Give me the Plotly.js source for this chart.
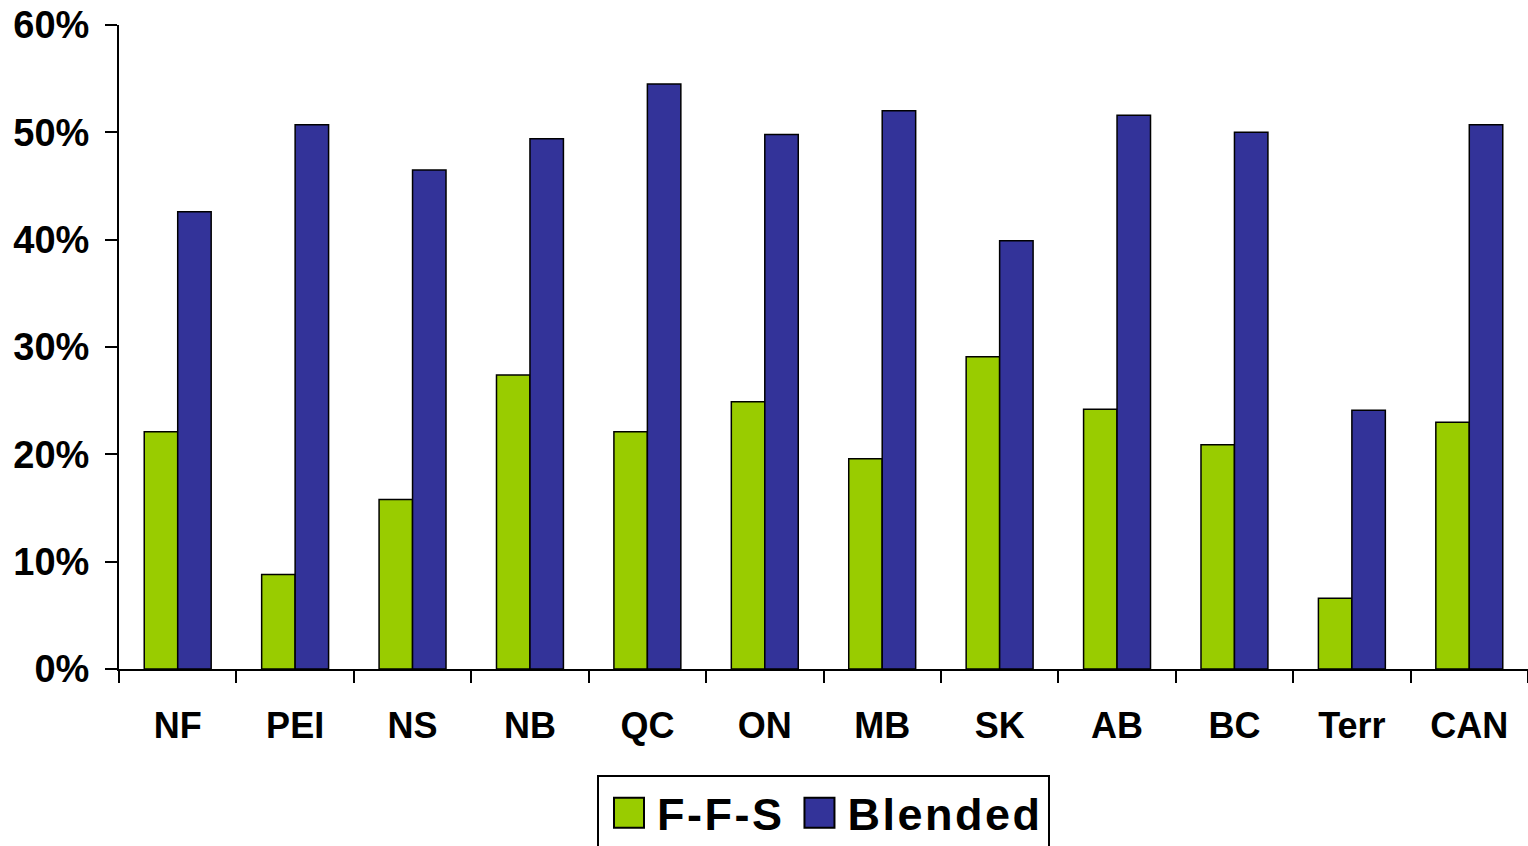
<!DOCTYPE html>
<html>
<head>
<meta charset="utf-8">
<script src="https://cdn.plot.ly/plotly-3.0.1.min.js"></script>
<style>
html,body{margin:0;padding:0;background:#fff;}
#chart{width:1528px;height:846px;}
text.legendtext{letter-spacing:2.5px;}
</style>
</head>
<body>
<div id="chart"></div>
<script>
const categories = ["NF","PEI","NS","NB","QC","ON","MB","SK","AB","BC","Terr","CAN"];
const ffsValues = [0.221, 0.088, 0.158, 0.274, 0.221, 0.249, 0.196, 0.291, 0.242, 0.209, 0.066, 0.230];
const blendedValues = [0.426, 0.507, 0.465, 0.494, 0.545, 0.498, 0.520, 0.399, 0.516, 0.500, 0.241, 0.507];
const seriesNames = ["F-F-S", "Blended"];
const yTickVals = [0, 0.1, 0.2, 0.3, 0.4, 0.5, 0.6];
const yTickText = ["0%","10%","20%","30%","40%","50%","60%"];

const fontFam = "Arial, 'Liberation Sans', sans-serif";

const traces = [
  {type:"bar", name:seriesNames[0], x:categories, y:ffsValues,
   marker:{color:"#99CC00", line:{color:"#000", width:1.5}}, hoverinfo:"skip"},
  {type:"bar", name:seriesNames[1], x:categories, y:blendedValues,
   marker:{color:"#333399", line:{color:"#000", width:1.5}}, hoverinfo:"skip"}
];

const layout = {
  width:1528, height:846,
  margin:{l:119, r:0, t:25, b:177, autoexpand:false},
  paper_bgcolor:"#fff", plot_bgcolor:"#fff",
  barmode:"group", bargap:0.43, bargroupgap:0,
  font:{family:fontFam, color:"#000"},
  xaxis:{
    type:"category", showline:true, linecolor:"#000", linewidth:2,
    ticks:"outside", tickson:"boundaries", ticklen:12, tickwidth:2, tickcolor:"#000",
    tickfont:{family:fontFam, size:36, weight:"bold", color:"#000"},
    ticklabelstandoff:24, showgrid:false, zeroline:false, fixedrange:true
  },
  yaxis:{
    range:[0,0.6], tickvals:yTickVals, ticktext:yTickText,
    showline:true, linecolor:"#000", linewidth:2,
    ticks:"outside", ticklen:12, tickwidth:2, tickcolor:"#000",
    tickfont:{family:fontFam, size:38, weight:"bold", color:"#000"},
    ticklabelstandoff:8, showgrid:false, zeroline:false, fixedrange:true
  },
  showlegend:true,
  legend:{
    orientation:"h", x:0.5, xanchor:"center", y:-0.1646, yanchor:"top",
    bordercolor:"#000", borderwidth:2, bgcolor:"#fff",
    font:{family:fontFam, size:45, weight:"bold", color:"#000"},
    itemwidth:48, traceorder:"normal"
  }
};

Plotly.newPlot("chart", traces, layout, {displayModeBar:false, staticPlot:true}).then(function(){
  document.querySelectorAll(".legendpoints path").forEach(function(p){
    p.setAttribute("transform", "translate(30,0) scale(2.5)");
    p.style.strokeWidth = "0.8px";
  });
});
</script>
</body>
</html>
